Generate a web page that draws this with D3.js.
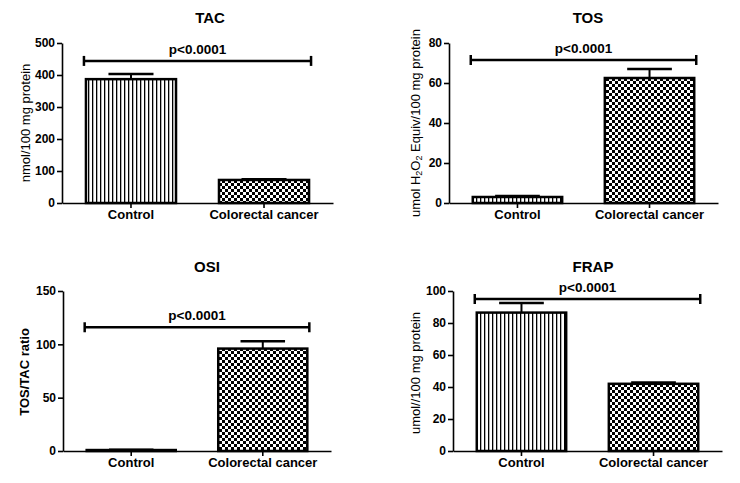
<!DOCTYPE html>
<html>
<head>
<meta charset="utf-8">
<script src="https://cdn.jsdelivr.net/npm/d3@7"></script>
<style>
  html, body { margin: 0; padding: 0; background: #fff; }
  svg { display: block; }
  text { font-family: "Liberation Sans", Arial, sans-serif; fill: #000; }
</style>
</head>
<body>
<svg id="chart" width="740" height="483"></svg>
<script>
// ---- data ----
const categories = ["Control", "Colorectal cancer"];
const panelTitles = ["TAC", "TOS", "OSI", "FRAP"];
const yLabels = ["nmol/100 mg protein", "umol H2O2 Equiv/100 mg protein", "TOS/TAC ratio", "umol//100 mg protein"];
const yMax = [500, 80, 150, 100];
const yTickStep = [100, 20, 50, 20];
const meanTAC = [387, 72];
const errTAC = [16, 2];
const meanTOS = [3, 62.5];
const errTOS = [0.5, 4.5];
const meanOSI = [0.9, 96];
const errOSI = [0.2, 7];
const meanFRAP = [86.5, 42];
const errFRAP = [6, 0.8];
const pLabel = "p<0.0001";
const bracketLevel = [444, 71.5, 116, 95];

const means = [meanTAC, meanTOS, meanOSI, meanFRAP];
const errs = [errTAC, errTOS, errOSI, errFRAP];

// ---- layout (pixels) ----
const layout = [
  {ax: 62,  right: 333, y0: 203, yTop: 43,  titleX: 210, titleY: 23,  labX: 25,  labY: 123, labBold: false},
  {ax: 449, right: 718, y0: 203, yTop: 43,  titleX: 588, titleY: 23,  labX: 415, labY: 123, labBold: false},
  {ax: 63,  right: 331, y0: 451, yTop: 291, titleX: 207, titleY: 272, labX: 24,  labY: 372, labBold: true},
  {ax: 453, right: 722, y0: 451, yTop: 291, titleX: 593, titleY: 272, labX: 415, labY: 373, labBold: false}
];

const svg = d3.select("#chart");
const defs = svg.append("defs");

// vertical stripe pattern
const ps = defs.append("pattern").attr("id", "stripes")
  .attr("patternUnits", "userSpaceOnUse").attr("width", 4).attr("height", 4);
ps.append("rect").attr("width", 4).attr("height", 4).attr("fill", "#fff");
ps.append("rect").attr("x", 0).attr("width", 1.3).attr("height", 4).attr("fill", "#000");

// checkerboard pattern
const pc = defs.append("pattern").attr("id", "checker")
  .attr("patternUnits", "userSpaceOnUse").attr("width", 6).attr("height", 6);
pc.append("rect").attr("width", 6).attr("height", 6).attr("fill", "#fff");
pc.append("rect").attr("x", 0).attr("y", 0).attr("width", 3).attr("height", 3).attr("fill", "#000");
pc.append("rect").attr("x", 3).attr("y", 3).attr("width", 3).attr("height", 3).attr("fill", "#000");

const fills = ["url(#stripes)", "url(#checker)"];

layout.forEach((L, i) => {
  const g = svg.append("g");
  const y = d3.scaleLinear().domain([0, yMax[i]]).range([L.y0, L.yTop]);
  const x = d3.scaleBand().domain(categories).range([L.ax, L.right])
    .paddingInner(0.323).paddingOuter(0.18);

  // bars
  categories.forEach((c, j) => {
    const v = means[i][j];
    g.append("rect")
      .attr("x", x(c)).attr("y", y(v))
      .attr("width", x.bandwidth()).attr("height", Math.max(0.5, y(0) - y(v)))
      .attr("fill", fills[j]).attr("stroke", "#000").attr("stroke-width", 2.5);
    // error bar (upward)
    const cx = x(c) + x.bandwidth() / 2;
    const top = y(v + errs[i][j]);
    g.append("line").attr("x1", cx).attr("x2", cx).attr("y1", y(v)).attr("y2", top)
      .attr("stroke", "#000").attr("stroke-width", 2);
    g.append("line").attr("x1", cx - x.bandwidth() / 4).attr("x2", cx + x.bandwidth() / 4)
      .attr("y1", top).attr("y2", top).attr("stroke", "#000").attr("stroke-width", 2.5);
  });

  // y axis
  const ticks = d3.range(0, yMax[i] + 0.001, yTickStep[i]);
  const ya = g.append("g").attr("transform", `translate(${L.ax},0)`)
    .call(d3.axisLeft(y).tickValues(ticks).tickSize(5).tickSizeOuter(0).tickPadding(2).tickFormat(d3.format("d")));
  ya.select(".domain").attr("stroke-width", 1.6);
  ya.selectAll(".tick line").attr("stroke-width", 1.6);
  ya.selectAll("text").style("font-size", "12px").style("font-weight", "bold")
    .style("font-family", "'Liberation Sans', Arial, sans-serif");

  // x axis
  const xa = g.append("g").attr("transform", `translate(0,${L.y0})`)
    .call(d3.axisBottom(x).tickSize(5).tickSizeOuter(0).tickPadding(2));
  xa.select(".domain").attr("stroke-width", 1.6);
  xa.selectAll(".tick line").attr("stroke-width", 1.6);
  xa.selectAll("text").style("font-size", "13px").style("font-weight", "bold")
    .style("font-family", "'Liberation Sans', Arial, sans-serif");

  // significance bracket
  const by = y(bracketLevel[i]);
  const bx1 = x(categories[0]) - 2;
  const bx2 = x(categories[1]) + x.bandwidth() + 2;
  g.append("line").attr("x1", bx1).attr("x2", bx2).attr("y1", by).attr("y2", by)
    .attr("stroke", "#000").attr("stroke-width", 2.5);
  [bx1, bx2].forEach(bx => {
    g.append("line").attr("x1", bx).attr("x2", bx).attr("y1", by - 5).attr("y2", by + 5)
      .attr("stroke", "#000").attr("stroke-width", 2.5);
  });
  g.append("text").attr("x", (bx1 + bx2) / 2).attr("y", by - 7)
    .attr("text-anchor", "middle").style("font-size", "13.5px").style("font-weight", "bold")
    .text(pLabel);

  // title
  g.append("text").attr("x", L.titleX).attr("y", L.titleY).attr("text-anchor", "middle")
    .style("font-size", "15px").style("font-weight", "bold").text(panelTitles[i]);

  // y label
  const lab = g.append("text")
    .attr("transform", `translate(${L.labX},${L.labY}) rotate(-90)`)
    .attr("text-anchor", "middle").attr("dominant-baseline", "central")
    .style("font-size", "13px").style("font-weight", L.labBold ? "bold" : "normal");
  if (yLabels[i].includes("H2O2")) {
    lab.append("tspan").text("umol H");
    lab.append("tspan").attr("dy", 4).style("font-size", "9px").text("2");
    lab.append("tspan").attr("dy", -4).text("O");
    lab.append("tspan").attr("dy", 4).style("font-size", "9px").text("2");
    lab.append("tspan").attr("dy", -4).text(" Equiv/100 mg protein");
  } else {
    lab.text(yLabels[i]);
  }
});
</script>
</body>
</html>
